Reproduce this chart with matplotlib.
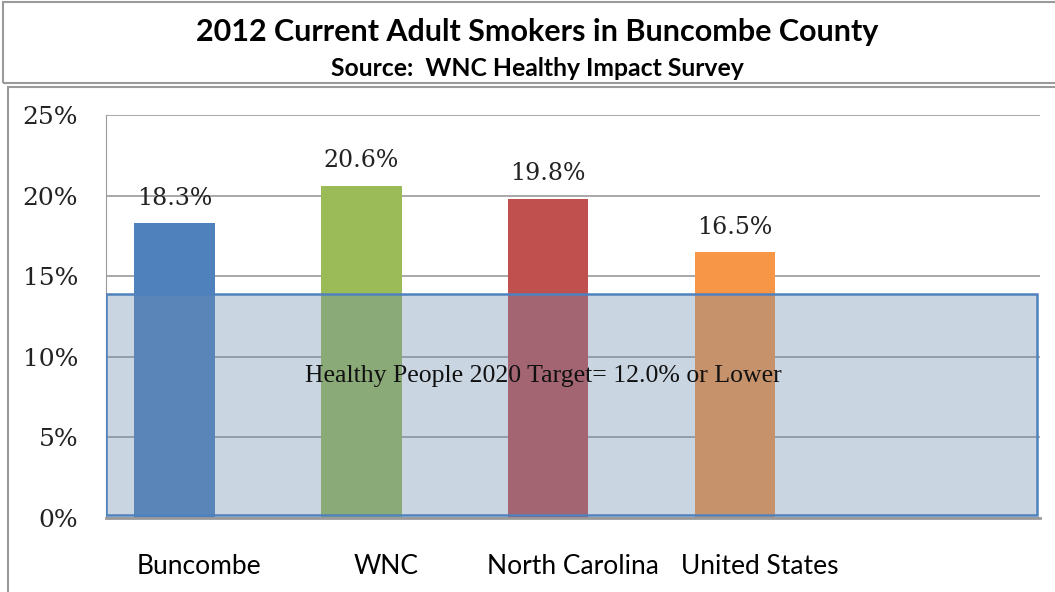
import matplotlib.pyplot as plt
from matplotlib.patches import Rectangle

# data
categories = ['Buncombe', 'WNC', 'North Carolina', 'United States', '']
values = [0.183, 0.206, 0.198, 0.165]
value_labels = ['18.3%', '20.6%', '19.8%', '16.5%']
bar_colors = ['#4F81BD', '#9BBB59', '#C0504D', '#F79646']
yticks = [0, 0.05, 0.10, 0.15, 0.20, 0.25]
ytick_labels = ['0%', '5%', '10%', '15%', '20%', '25%']
target_low, target_high = 0.002, 0.139
target_text = 'Healthy People 2020 Target= 12.0% or Lower'

fig = plt.figure(figsize=(10.55, 5.92), dpi=100)
W, H = 1055, 592

# outer frames (title box and chart box)
fig.patches.append(Rectangle((3 / W, 1 - 83 / H), 1.0, 81 / H, transform=fig.transFigure,
                             fill=False, edgecolor='#9a9a9a', linewidth=1.5))
fig.patches.append(Rectangle((8 / W, -0.01), 1.0, 1 - 87 / H + 0.01, transform=fig.transFigure,
                             fill=False, edgecolor='#9a9a9a', linewidth=1.5))

fig.text(537 / W, 1 - 32 / H, '2012 Current Adult Smokers in Buncombe County',
         ha='center', va='center', fontsize=22, fontweight='bold', family='Lato')
fig.text(537 / W, 1 - 68 / H, 'Source:  WNC Healthy Impact Survey',
         ha='center', va='center', fontsize=17.8, fontweight='bold', family='Lato')

ax = fig.add_axes([106 / W, 74 / H, 934 / W, 403 / H])
x = list(range(len(categories)))
# bars sit a little left of their category labels, as in the original
bx = [xi - 0.133 for xi in x[:len(values)]]
ax.bar(bx, values, width=0.43, color=bar_colors, zorder=2)
for xi, v, lab in zip(bx, values, value_labels):
    ax.text(xi, v + 0.0155, lab, ha='center', va='center', fontsize=17,
            family='DejaVu Serif', color='#222222')

ax.set_xlim(-0.5, len(categories) - 0.5)
ax.set_ylim(0, 0.25)
ax.set_yticks(yticks)
ax.set_yticklabels(ytick_labels, family='DejaVu Serif', fontsize=18, color='#222222')
ax.set_xticks(x)
ax.set_xticklabels(categories, family='Lato', fontsize=19)
ax.tick_params(axis='y', length=0, pad=20)
ax.tick_params(axis='x', length=0, pad=26)
ax.grid(axis='y', color='#9a9a9a', linewidth=1.2, zorder=1)
for s in ['top', 'right']:
    ax.spines[s].set_visible(False)
ax.spines['left'].set_color('#9a9a9a')
ax.spines['bottom'].set_color('#9a9a9a')
ax.spines['bottom'].set_linewidth(2)

# target overlay box
ax.add_patch(Rectangle((-0.5, target_low), 4.984, target_high - target_low,
                       facecolor='#6E8DB1', alpha=0.36, edgecolor='none', zorder=3))
ax.add_patch(Rectangle((-0.5, target_low), 4.984, target_high - target_low,
                       fill=False, edgecolor='#4F81BD', linewidth=1.8, zorder=4))
ax.text(1.84, 0.088, target_text, ha='center', va='center', fontsize=18.5,
        family='Liberation Serif', color='#111111', zorder=5)

fig.savefig('out.png', dpi=100)
